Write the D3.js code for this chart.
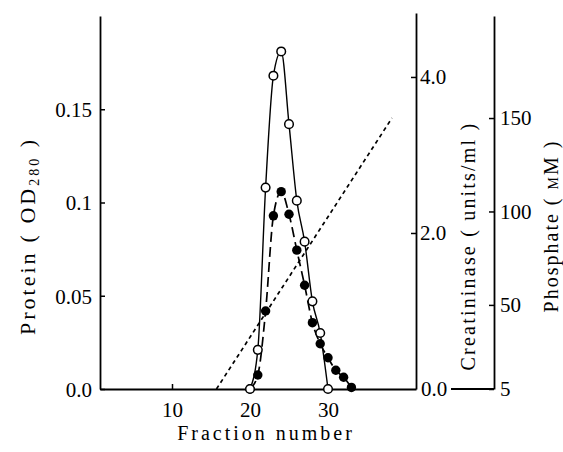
<!DOCTYPE html>
<html><head><meta charset="utf-8">
<script src="https://cdn.jsdelivr.net/npm/d3@7"></script>
<style>
body{margin:0;background:#fff}
svg text{font-family:"Liberation Serif","DejaVu Serif","Noto Serif",serif;fill:#000}
</style>
</head><body>
<svg id="c" width="563" height="452"></svg>
<script>
// ---- data ----
const proteinFractions = [20, 21, 22, 23, 24, 25, 26, 27, 28, 29, 30];
const proteinOD = [0.0, 0.021, 0.108, 0.168, 0.181, 0.142, 0.101, 0.079, 0.047, 0.030, 0.0];
const enzymeFractions = [20, 21, 22, 23, 24, 25, 26, 27, 28, 29, 30, 31, 32, 33];
const creatininase = [0.0, 0.18, 1.00, 2.22, 2.53, 2.24, 1.78, 1.33, 0.85, 0.58, 0.40, 0.24, 0.15, 0.02];
const gradientFractions = [15.7, 38.2];
const phosphateMM = [5, 150];
const xTicks = [10, 20, 30];
const proteinTicks = [0, 0.05, 0.1, 0.15];
const proteinTickLabels = ["0.0", "0.05", "0.1", "0.15"];
const enzymeTicks = [2, 4];
const enzymeTickLabels = ["2.0", "4.0"];
const phosphateTicks = [5, 50, 100, 150];
const phosphateTickLabels = ["5", "50", "100", "150"];

const FONT = '"Liberation Serif","DejaVu Serif","Noto Serif",serif';

// ---- scales ----
const svg = d3.select("#c");
const x = d3.scaleLinear().domain([0.77, 41.28]).range([100, 416]);
const yP = d3.scaleLinear().domain([0, 0.2]).range([389, 16]);
const yE = d3.scaleLinear().domain([0, 4.82]).range([389, 13]);
const yPh = d3.scaleLinear().domain([5, 204.6]).range([389, 16]);
const FS = 21;

function styleAxis(g){
  g.attr("font-family", FONT);
  g.selectAll("path.domain").attr("stroke-width", 1.8);
  g.selectAll(".tick line").attr("stroke-width", 1.5);
  g.selectAll("text").attr("font-size", FS).attr("font-family", FONT);
}

// left axis
svg.append("g").attr("transform","translate(100,0)")
  .call(d3.axisLeft(yP).tickValues(proteinTicks).tickSize(-5).tickSizeOuter(0).tickPadding(8)
    .tickFormat((d,i)=>proteinTickLabels[i]))
  .call(styleAxis).call(g=>g.selectAll("text").attr("dy","0.35em"));

// bottom axis
svg.append("g").attr("transform","translate(0,389)")
  .call(d3.axisBottom(x).tickValues(xTicks).tickSize(-5).tickSizeOuter(0).tickPadding(13))
  .call(styleAxis);

// creatininase axis
svg.append("g").attr("transform","translate(416,0)")
  .call(d3.axisRight(yE).tickValues(enzymeTicks).tickSize(-5).tickSizeOuter(0).tickPadding(4)
    .tickFormat((d,i)=>enzymeTickLabels[i]))
  .call(styleAxis);
svg.append("text").attr("x",421).attr("y",yE(0)).attr("dy","0.35em")
  .attr("font-size",FS).attr("font-family",FONT).text("0.0");
svg.append("line").attr("x1",451).attr("x2",494).attr("y1",389).attr("y2",389)
  .attr("stroke","#000").attr("stroke-width",1.8);

// phosphate axis
svg.append("g").attr("transform","translate(494,0)")
  .call(d3.axisRight(yPh).tickValues(phosphateTicks).tickSize(-5).tickSizeOuter(0).tickPadding(6)
    .tickFormat((d,i)=>phosphateTickLabels[i]))
  .call(styleAxis);

// ---- lines ----
const gradLine = d3.line().x((d,i)=>x(gradientFractions[i])).y(d=>yPh(d));
svg.append("path").attr("d", gradLine(phosphateMM)).attr("fill","none")
  .attr("stroke","#000").attr("stroke-width",1.7).attr("stroke-dasharray","4,3.5");

const enzLine = d3.line().curve(d3.curveMonotoneX).x((d,i)=>x(enzymeFractions[i])).y(d=>yE(d));
svg.append("path").attr("d", enzLine(creatininase)).attr("fill","none")
  .attr("stroke","#000").attr("stroke-width",1.7).attr("stroke-dasharray","10,5");

const protLine = d3.line().curve(d3.curveMonotoneX).x((d,i)=>x(proteinFractions[i])).y(d=>yP(d));
svg.append("path").attr("d", protLine(proteinOD)).attr("fill","none")
  .attr("stroke","#000").attr("stroke-width",1.4);

// ---- markers ----
svg.append("g").selectAll("circle").data(creatininase).join("circle")
  .attr("cx",(d,i)=>x(enzymeFractions[i])).attr("cy",d=>yE(d)).attr("r",4.7).attr("fill","#000");
svg.append("g").selectAll("circle").data(proteinOD).join("circle")
  .attr("cx",(d,i)=>x(proteinFractions[i])).attr("cy",d=>yP(d)).attr("r",4.3)
  .attr("fill","#fff").attr("stroke","#000").attr("stroke-width",1.5);

// ---- titles ----
svg.append("text").attr("x",266).attr("y",440).attr("text-anchor","middle").attr("font-size",20)
  .attr("font-family",FONT).attr("letter-spacing",3).text("Fraction number");

const pt = svg.append("text").attr("transform","translate(27,236) rotate(-90)")
  .attr("text-anchor","middle").attr("dy","0.35em").attr("font-size",22)
  .attr("font-family",FONT).attr("letter-spacing",3);
pt.append("tspan").text("Protein");
pt.append("tspan").attr("dx",8).text("( OD");
pt.append("tspan").attr("font-size",14).attr("dy",4).text("280");
pt.append("tspan").attr("dy",-4).text(" )");

svg.append("text").attr("transform","translate(468,246) rotate(-90)")
  .attr("text-anchor","middle").attr("dy","0.35em").attr("font-size",20)
  .attr("font-family",FONT).attr("letter-spacing",2.2).text("Creatininase ( units/ml )");

const ph = svg.append("text").attr("transform","translate(551,226) rotate(-90)")
  .attr("text-anchor","middle").attr("dy","0.35em").attr("font-size",20)
  .attr("font-family",FONT).attr("letter-spacing",2);
ph.append("tspan").text("Phosphate ( ");
ph.append("tspan").style("font-variant","small-caps").text("mM");
ph.append("tspan").text(" )");
</script>
</body></html>
